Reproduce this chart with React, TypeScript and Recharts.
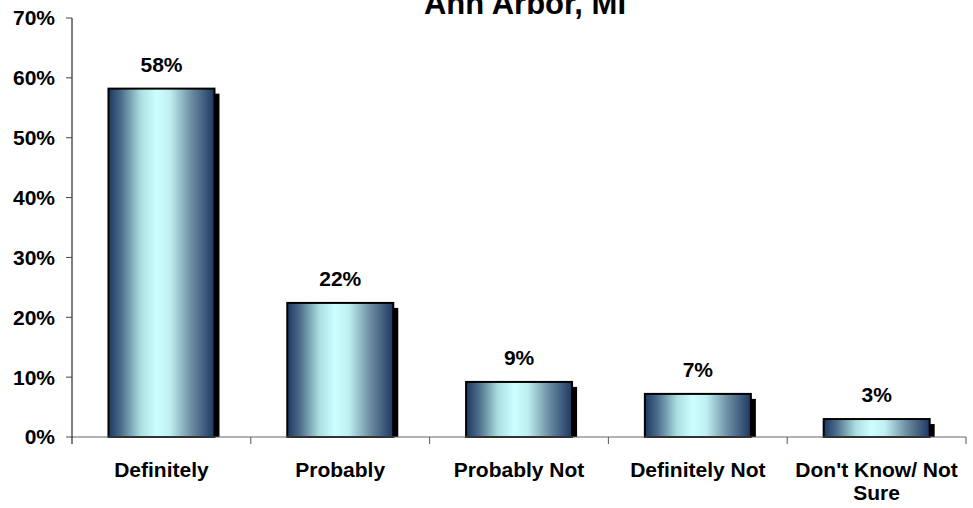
import React from 'react';
import { BarChart, Bar, XAxis, YAxis, LabelList } from 'recharts';

const categories = ['Definitely', 'Probably', 'Probably Not', 'Definitely Not', "Don't Know/ Not Sure"];
const values = [58.2, 22.4, 9.2, 7.2, 3.0];
const yTicks = [0, 10, 20, 30, 40, 50, 60, 70];
const title = 'Ann Arbor, MI';

const data = categories.map((name, i) => ({ name, value: values[i] }));

const FONT = 'Arial, "Liberation Sans", sans-serif';
const FS = 21;

const wrapLabel = (s: string, maxChars: number) => {
  const words = s.split(' ');
  const lines: string[] = [];
  let cur = '';
  words.forEach((w) => {
    const next = cur ? cur + ' ' + w : w;
    if (next.length > maxChars && cur) {
      lines.push(cur);
      cur = w;
    } else {
      cur = next;
    }
  });
  if (cur) lines.push(cur);
  return lines;
};

const BarShape = (props: any) => {
  const { x, y, width, height } = props;
  if (height <= 0) return null;
  return (
    <g>
      <rect x={x + 5} y={y + 5} width={width} height={Math.max(0, height - 5)} fill="#000" />
      <rect x={x} y={y} width={width} height={height} fill="url(#barGrad)" stroke="#000" strokeWidth={2} />
    </g>
  );
};

const XTick = (props: any) => {
  const { x, y, payload } = props;
  const half = payload.offset || 0;
  const lines = wrapLabel(String(payload.value), 15);
  return (
    <g>
      <line x1={x + half} y1={y} x2={x + half} y2={y + 7} stroke="#555" strokeWidth={1} />
      {payload.index === 0 ? (
        <line x1={x - half} y1={y} x2={x - half} y2={y + 7} stroke="#000" strokeWidth={1} />
      ) : null}
      <text
        x={x}
        y={y + 39.5}
        textAnchor="middle"
        style={{ fontFamily: FONT, fontWeight: 'bold', fontSize: FS, fill: '#000' }}
      >
        {lines.map((l, i) => (
          <tspan key={i} x={x} dy={i === 0 ? 0 : 23.5}>
            {l}
          </tspan>
        ))}
      </text>
    </g>
  );
};

export default function App() {
  return (
    <div style={{ position: 'absolute', left: 0, top: 0, width: 973, height: 508, background: '#fff' }}>
      <BarChart
        width={973}
        height={508}
        data={data}
        margin={{ top: 18, right: 7, left: 0, bottom: 0 }}
        barCategoryGap="20.4%"
      >
        <defs>
          <linearGradient id="barGrad" x1="0" y1="0" x2="1" y2="0">
            <stop offset="0" stopColor="#1d3862" />
            <stop offset="0.12" stopColor="#4c6d8a" />
            <stop offset="0.3" stopColor="#a9dde0" />
            <stop offset="0.45" stopColor="#ccffff" />
            <stop offset="0.58" stopColor="#bfeff1" />
            <stop offset="0.78" stopColor="#6d8ea3" />
            <stop offset="1" stopColor="#1d3862" />
          </linearGradient>
        </defs>
        <XAxis
          dataKey="name"
          height={71}
          axisLine={{ stroke: '#666', strokeWidth: 1 }}
          tickLine={false}
          tickSize={0}
          tickMargin={0}
          interval={0}
          tick={<XTick />}
        />
        <YAxis
          width={72}
          domain={[0, 70]}
          ticks={yTicks}
          interval={0}
          tickFormatter={(v: number) => `${v}%`}
          axisLine={{ stroke: '#000', strokeWidth: 1 }}
          tickLine={{ stroke: '#444' }}
          tickSize={6}
          tickMargin={11}
          tick={{ fontFamily: FONT, fontWeight: 'bold', fontSize: FS, fill: '#000' }}
        />
        <Bar dataKey="value" shape={<BarShape />} isAnimationActive={false}>
          <LabelList
            dataKey="value"
            position="top"
            offset={17}
            formatter={(v: any) => `${Math.round(Number(v))}%`}
            style={{ fontFamily: FONT, fontWeight: 'bold', fontSize: FS, fill: '#000' }}
          />
        </Bar>
      </BarChart>
      <svg width={973} height={508} style={{ position: 'absolute', left: 0, top: 0, pointerEvents: 'none' }}>
        <text
          x={525}
          y={13.5}
          textAnchor="middle"
          style={{ fontFamily: FONT, fontWeight: 'bold', fontSize: 31, fill: '#000' }}
        >
          {title}
        </text>
      </svg>
    </div>
  );
}
